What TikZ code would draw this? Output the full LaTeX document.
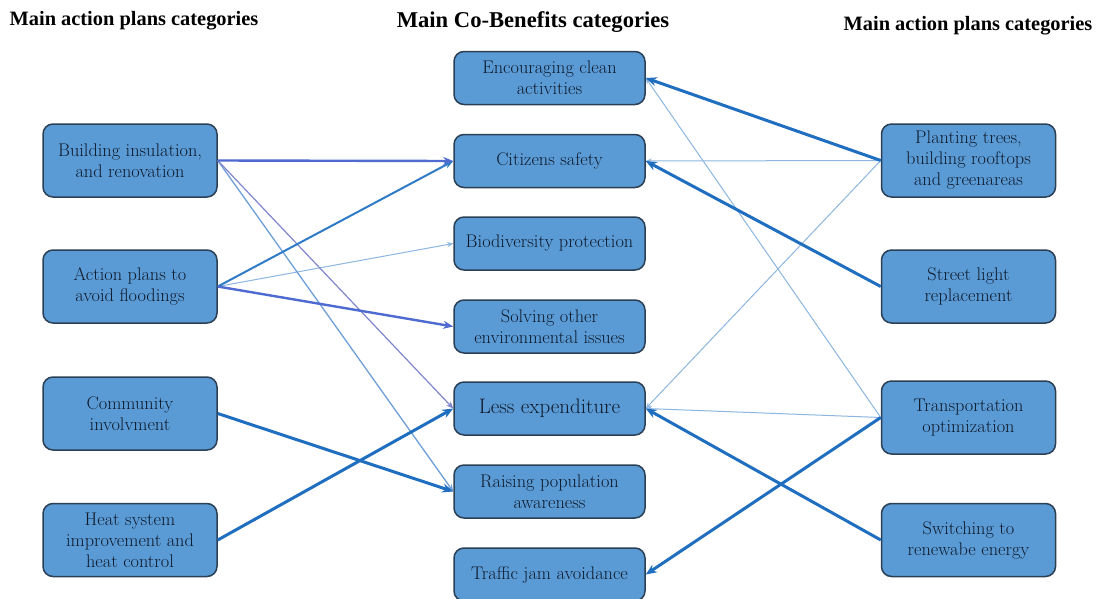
\documentclass[tikz,border=0pt]{standalone}
\usepackage{fontspec}
\newfontfamily\headserif{Liberation Serif}
\usetikzlibrary{arrows.meta}

\definecolor{boxfill}{HTML}{5B9BD5}
\definecolor{boxline}{HTML}{2B3F55}
\definecolor{boxtext}{HTML}{0E1A2C}
\definecolor{strongblue}{HTML}{1F6EC0}
\definecolor{midblue}{HTML}{2F7BC8}
\definecolor{violetblue}{HTML}{4F6AD0}
\definecolor{paleviolet}{HTML}{7F86CC}
\definecolor{paleblue}{HTML}{8DB6E0}
\definecolor{lightblue}{HTML}{6E9FD8}

\begin{document}
\begin{tikzpicture}[x=1pt,y=-1pt,
  cat/.style={draw=boxline, line width=1.5pt, fill=boxfill, rounded corners=10pt,
    text=boxtext, align=center, inner sep=0pt,
    font=\rmfamily\fontsize{18.3}{21}\selectfont},
  sidebox/.style={cat, minimum width=174pt, minimum height=73pt},
  midbox/.style={cat, minimum width=191pt, minimum height=53pt},
  heading/.style={font=\headserif\bfseries\fontsize{20.4}{24}\selectfont, inner sep=0pt},
  thickflow/.style={draw=strongblue, line width=3pt, -{Stealth[length=11pt,width=9pt]}},
  midflow/.style={draw=midblue, line width=2pt, -{Stealth[length=9pt,width=7pt]}},
  violetflow/.style={draw=violetblue, line width=2.4pt, -{Stealth[length=10pt,width=8pt]}},
  thinviolet/.style={draw=paleviolet, line width=1.2pt, -{Stealth[length=7pt,width=6pt]}},
  lightflow/.style={draw=lightblue, line width=1.3pt, -{Stealth[length=7pt,width=6pt]}},
  thinflow/.style={draw=paleblue, line width=1pt, -{Stealth[length=6pt,width=5pt]}},
]
\useasboundingbox (0,0) rectangle (1096,598);
\fill[white] (0,0) rectangle (1096,598);

% column headings
\node[heading] (hleft) at (134,21) {Main action plans categories};
\node[heading, font=\headserif\bfseries\fontsize{22.6}{26}\selectfont] (hmid) at (533,22) {Main Co-Benefits categories};
\node[heading] (hright) at (968,26) {Main action plans categories};

% left action plans
\node[sidebox] (insul) at (130,160.5) {Building insulation,\\and renovation};
\node[sidebox] (flood) at (130,286.5) {Action plans to\\avoid floodings};
\node[sidebox] (comm)  at (130,413.5) {Community\\involvment};
\node[sidebox] (heat)  at (130,540) {Heat system\\improvement and\\heat control};

% co-benefits
\node[midbox] (clean)  at (549.5,78)    {Encouraging clean\\activities};
\node[midbox] (safety) at (549.5,161)   {Citizens safety};
\node[midbox] (biodiv) at (549.5,243.5) {Biodiversity protection};
\node[midbox] (envir)  at (549.5,326.5) {Solving other\\environmental issues};
\node[midbox, font=\rmfamily\fontsize{21}{24}\selectfont] (spend) at (549.5,408.5) {Less expenditure};
\node[midbox] (aware)  at (549.5,491.5) {Raising population\\awareness};
\node[midbox] (traffic) at (549.5,574.5) {Traffic jam avoidance};

% right action plans
\node[sidebox] (trees)  at (968.5,160.5) {Planting trees,\\building rooftops\\and greenareas};
\node[sidebox] (street) at (968.5,286.5) {Street light\\replacement};
\node[sidebox] (transp) at (968.5,417.5) {Transportation\\optimization};
\node[sidebox] (renew)  at (968.5,540)   {Switching to\\renewabe energy};

% weak links
\draw[thinflow] (trees.west) -- (safety.east);
\draw[thinflow] (trees.west) -- (spend.east);
\draw[thinflow] (transp.west) -- (clean.east);
\draw[thinflow] (transp.west) -- (spend.east);
\draw[thinflow] (flood.east) -- (biodiv.west);
\draw[lightflow] (insul.east) -- (aware.west);
\draw[thinviolet] (insul.east) -- (spend.west);

% medium links
\draw[midflow] (flood.east) -- (safety.west);
\draw[violetflow] (insul.east) -- (safety.west);
\draw[violetflow] (flood.east) -- (envir.west);

% strong links
\draw[thickflow] (comm.east) -- (aware.west);
\draw[thickflow] (heat.east) -- (spend.west);
\draw[thickflow] (trees.west) -- (clean.east);
\draw[thickflow] (street.west) -- (safety.east);
\draw[thickflow] (transp.west) -- (traffic.east);
\draw[thickflow] (renew.west) -- (spend.east);
\end{tikzpicture}
\end{document}
